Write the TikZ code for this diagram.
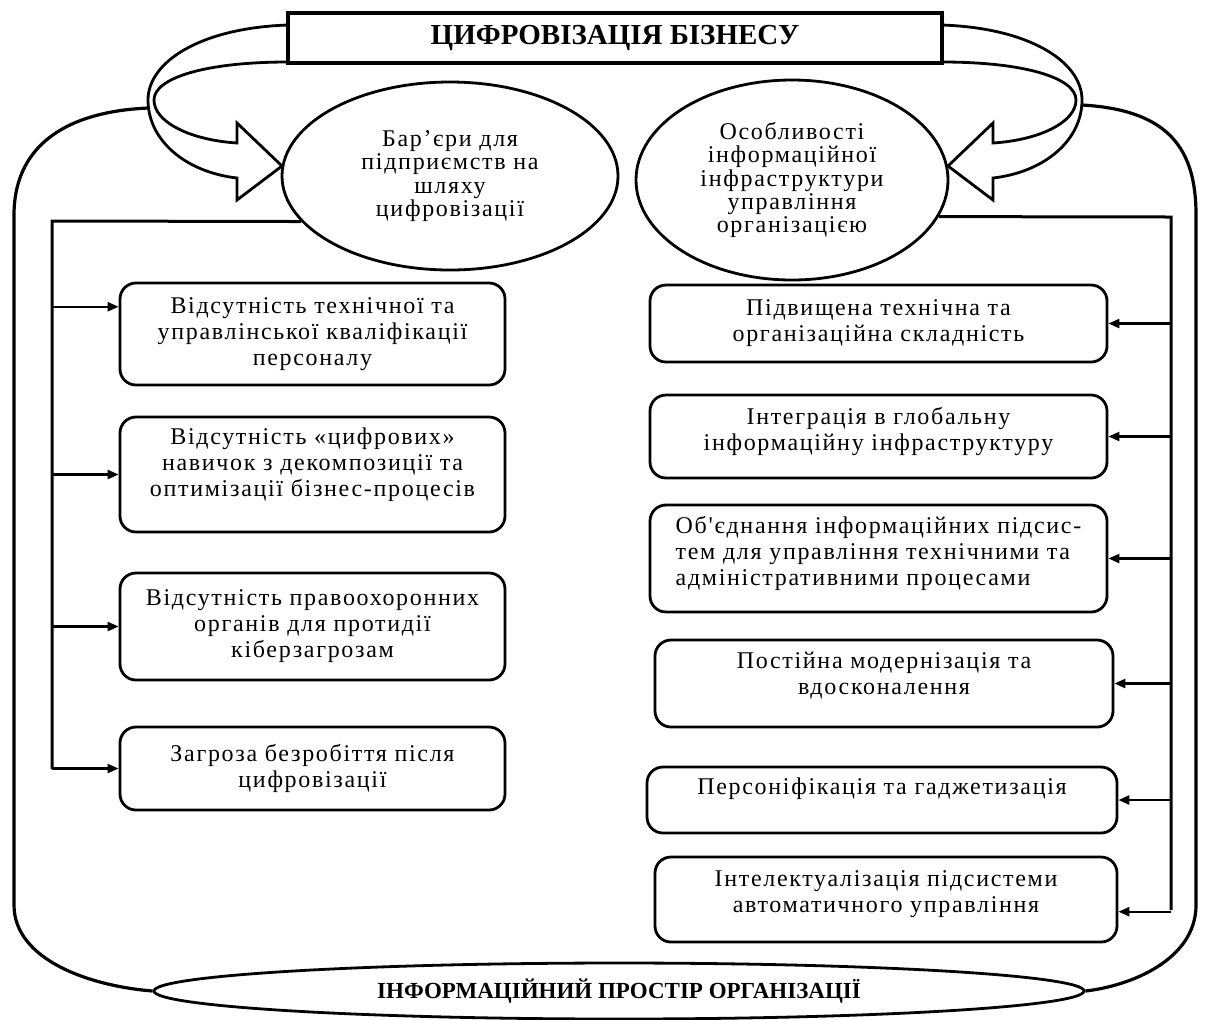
\documentclass[tikz,border=0pt]{standalone}
\usepackage{fontspec}
\setmainfont{Liberation Serif}[BoldFont={Liberation Serif Bold}]
\newfontfamily\spfont{Liberation Serif}[LetterSpace=7]
\usetikzlibrary{shapes.geometric,arrows.meta}

\tikzset{
  box/.style={draw, rounded corners=8pt, line width=1.4pt, align=center, inner sep=2pt,
    font=\spfont\fontsize{12}{13}\selectfont},
  oval/.style={draw, ellipse, line width=1.4pt, align=center, inner sep=0pt,
    font=\spfont\fontsize{12}{11.6}\selectfont},
  frame/.style={line width=1.6pt},
  bus/.style={line width=1.5pt},
  arr/.style={line width=1.2pt, -{Triangle[length=5.5pt,width=4.5pt]}},
  band/.style={line width=1.4pt, fill=white, line join=miter},
}

\begin{document}
\begin{tikzpicture}[x=0.5pt,y=-0.5pt]
  \useasboundingbox (0,0) rectangle (1208,1019);

  % information space of the organisation
  \node[oval, minimum width=465pt, minimum height=28pt, fill=white,
    font=\rmfamily\bfseries\fontsize{11.5}{13}\selectfont] (space) at (619,991) {ІНФОРМАЦІЙНИЙ ПРОСТІР ОРГАНІЗАЦІЇ};
  \draw[frame] (148,108) .. controls (60,112) and (14,150) .. (14,215) -- (14,905)
    .. controls (14,960) and (90,986) .. (space.west);
  \draw[frame] (1082,105) .. controls (1170,110) and (1196,150) .. (1196,215) -- (1196,905)
    .. controls (1196,960) and (1130,986) .. (space.east);

  % curved arrows from the title
  \draw[band] (288,25) .. controls (200,28) and (148,62) .. (148,100)
    .. controls (148,140) and (185,172) .. (237,178) -- (237,200) -- (282,166) -- (237,123) -- (237,143)
    .. controls (190,140) and (154,122) .. (154,100) .. controls (154,78) and (205,62) .. (288,62);
  \draw[band] (942,25) .. controls (1030,28) and (1082,62) .. (1082,100)
    .. controls (1082,140) and (1045,172) .. (993,178) -- (993,200) -- (948,166) -- (993,123) -- (993,143)
    .. controls (1040,140) and (1076,122) .. (1076,100) .. controls (1076,78) and (1025,62) .. (942,62);

  \node[draw, fill=white, line width=1.6pt, minimum width=327pt, minimum height=25pt,
    font=\rmfamily\bfseries\fontsize{14.5}{16}\selectfont] (title) at (615,38) {ЦИФРОВІЗАЦІЯ БІЗНЕСУ};

  \node[oval, minimum width=168pt, minimum height=94pt] (barriers) at (450,176)
    {Бар’єри для\\підприємств на\\шляху\\цифровізації};
  \node[oval, minimum width=156pt, minimum height=100pt] (infra) at (792,180)
    {Особливості\\інформаційної\\інфраструктури\\управління\\організацією};

  % barriers
  \node[box, minimum width=192.5pt, minimum height=51pt] (b1) at (312.5,334)
    {Відсутність технічної та\\управлінської кваліфікації\\персоналу};
  \node[box, minimum width=192.5pt, minimum height=57.5pt, text depth=12pt] (b2) at (312.5,474.5)
    {Відсутність «цифрових»\\навичок з декомпозиції та\\оптимізації бізнес-процесів};
  \node[box, minimum width=192.5pt, minimum height=53.5pt] (b3) at (312.5,626.5)
    {Відсутність правоохоронних\\органів для протидії\\кіберзагрозам};
  \node[box, minimum width=192.5pt, minimum height=41.5pt] (b4) at (312.5,768.5)
    {Загроза безробіття після\\цифровізації};

  % infrastructure features
  \node[box, minimum width=228.5pt, minimum height=38.5pt] (r1) at (878.5,323.5)
    {Підвищена технічна та\\організаційна складність};
  \node[box, minimum width=228.5pt, minimum height=41.5pt, text depth=8pt] (r2) at (878.5,436.5)
    {Інтеграція в глобальну\\інформаційну інфраструктуру};
  \node[box, minimum width=228.5pt, minimum height=53.5pt, align=left, text depth=8pt] (r3) at (878.5,558.5)
    {Об'єднання інформаційних підсис-\\тем для управління технічними та\\адміністративними процесами};
  \node[box, minimum width=229pt, minimum height=43.5pt, text depth=10pt] (r4) at (884,683.5)
    {Постійна модернізація та\\вдосконалення};
  \node[box, minimum width=235pt, minimum height=33pt, text depth=14pt] (r5) at (882,800)
    {Персоніфікація та гаджетизація};
  \node[box, minimum width=231pt, minimum height=42.5pt, text depth=8pt] (r6) at (886,899.5)
    {Інтелектуалізація підсистеми\\автоматичного управління};

  \coordinate (ltop) at (52,221);
  \coordinate (lend) at (52,769);
  \draw[bus] (barriers.197) -- (ltop) -- (lend);
  \draw[arr] (ltop |- b1.172) -- (b1.172);
  \foreach \b in {b2,b3,b4}
    \draw[arr] (ltop |- \b.west) -- (\b.west);

  \coordinate (rtop) at (1171,217);
  \coordinate (rend) at (1171,910);
  \draw[bus] (infra.-14) -- (rtop) -- (rend);
  \foreach \b in {r1,r2,r3,r4,r5}
    \draw[arr] (rtop |- \b.east) -- (\b.east);
  \draw[arr] (rtop |- r6.-3) -- (r6.-3);
\end{tikzpicture}
\end{document}
